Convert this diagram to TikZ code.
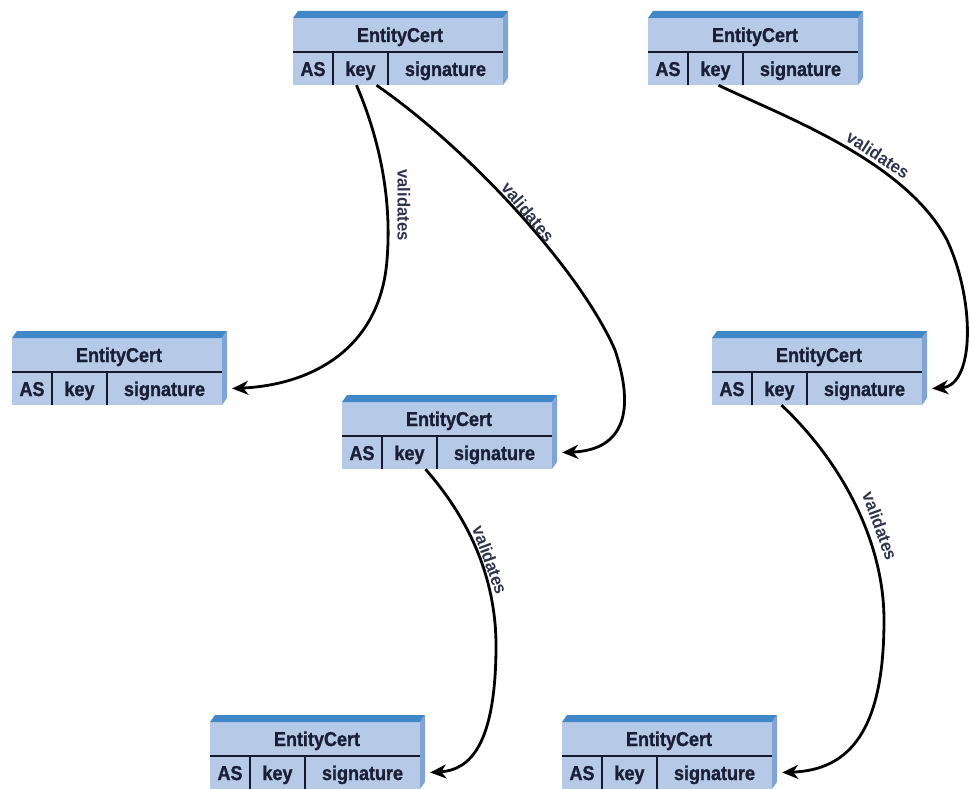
\documentclass[tikz,border=0pt]{standalone}
\usepackage{fontspec}
\setmainfont{Liberation Sans}
\newfontfamily\certfont[FakeStretch=0.9,FakeBold=1.2]{Liberation Sans}
\newfontfamily\labelfont[FakeStretch=0.95]{Liberation Sans}
\usetikzlibrary{arrows.meta}

\definecolor{facefront}{RGB}{182,202,232}
\definecolor{facetop}{RGB}{66,135,200}
\definecolor{faceside}{RGB}{128,164,212}
\definecolor{inkline}{RGB}{20,26,46}
\definecolor{inktext}{RGB}{26,31,56}
\definecolor{labelink}{RGB}{46,52,76}

\tikzset{
  certface/.style={fill=facefront, draw=none, minimum width=210pt, minimum height=67pt,
    inner sep=0pt, anchor=north west},
  certtop/.style={fill=facetop},
  certside/.style={fill=faceside},
  certrule/.style={draw=inkline, line width=2.6pt},
  certtitle/.style={font=\certfont\bfseries\fontsize{20}{21}\selectfont, text=inktext,
    inner sep=0pt, text height=18pt, text depth=4pt},
  certcell/.style={font=\certfont\bfseries\fontsize{20}{21}\selectfont, text=inktext,
    inner sep=0pt, minimum height=33pt, text height=20pt, text depth=5pt},
  link/.style={draw=black, line width=2.8pt,
    -{Stealth[length=16pt,width=14pt,inset=5pt]}},
  vlabel/.style={font=\labelfont\bfseries\fontsize{17.5}{18}\selectfont, text=labelink,
    inner sep=0pt}
}

% \certbox{name}{left}{top}: one certificate block with its three fields
\newcommand\certbox[3]{%
  \node[certface] (#1) at (#2,#3) {};
  \fill[certtop] (#2,#3) -- (#2+5,#3-7) -- (#2+215,#3-7) -- (#2+210,#3) -- cycle;
  \fill[certside] (#2+210,#3) -- (#2+215,#3-7) -- (#2+215,#3+60) -- (#2+210,#3+67) -- cycle;
  \node[certtitle] (#1title) at (#2+107,#3+17) {EntityCert};
  \node[certcell, minimum width=40pt] (#1as) at (#2+20,#3+50.5) {AS};
  \node[certcell, minimum width=55pt] (#1key) at (#2+67.5,#3+50.5) {key};
  \node[certcell, minimum width=115pt] (#1sig) at (#2+152.5,#3+50.5) {signature};
  \draw[certrule] (#2,#3+34) -- (#2+210,#3+34);
  \draw[certrule] (#2+40,#3+34) -- (#2+40,#3+67);
  \draw[certrule] (#2+95,#3+34) -- (#2+95,#3+67);
}

\begin{document}
\begin{tikzpicture}[x=1pt,y=-1pt]
  \useasboundingbox (0,0) rectangle (970,789);

  \certbox{ca}{293}{18}
  \certbox{cb}{648}{18}
  \certbox{cc}{12}{338}
  \certbox{cd}{712}{338}
  \certbox{ce}{342}{402}
  \certbox{cf}{210}{722}
  \certbox{cg}{562}{722}

  % validation links
  \draw[link] ([xshift=-4pt]cakey.south) .. controls (380,140) and (392,200) .. (387,260)
    .. controls (380,350) and (310,385) .. ([xshift=10pt]ccsig.east);
  \draw[link] ([xshift=16pt]cakey.south) .. controls (470,150) and (580,270) .. (615,350)
    .. controls (635,410) and (625,450) .. ([xshift=10pt]cesig.east);
  \draw[link] ([xshift=3pt]cbkey.south) .. controls (780,115) and (905,160) .. (947,240)
    .. controls (975,300) and (975,385) .. ([xshift=10pt]cdsig.east);
  \draw[link] ([xshift=16pt]cekey.south) .. controls (470,520) and (497,580) .. (496,650)
    .. controls (495,745) and (470,770) .. ([xshift=10pt]cfsig.east);
  \draw[link] ([xshift=2pt]cdkey.south) .. controls (840,460) and (884,540) .. (884,620)
    .. controls (884,730) and (850,770) .. ([xshift=10pt]cgsig.east);

  % link labels
  \node[vlabel, rotate=-90] (la) at (404,205) {validates};
  \node[vlabel, rotate=-50] (lb) at (528,212) {validates};
  \node[vlabel, rotate=-33] (lc) at (878,155) {validates};
  \node[vlabel, rotate=-70] (ld) at (490,560) {validates};
  \node[vlabel, rotate=-70] (le) at (880,526) {validates};
\end{tikzpicture}
\end{document}
